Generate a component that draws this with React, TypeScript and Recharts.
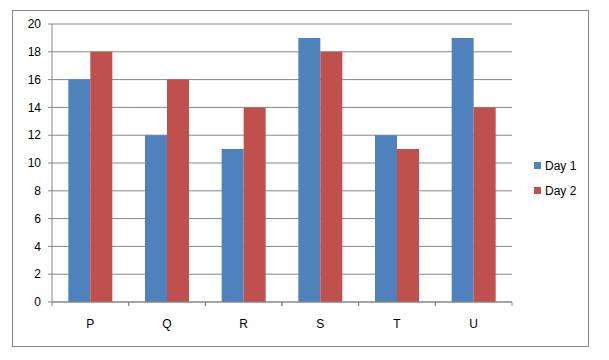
import React from "react";
import { BarChart, Bar, XAxis, YAxis, CartesianGrid, Legend } from "recharts";

const categories = ["P", "Q", "R", "S", "T", "U"];
const day1 = [16, 12, 11, 19, 12, 19];
const day2 = [18, 16, 14, 18, 11, 14];
const yTicks = [0, 2, 4, 6, 8, 10, 12, 14, 16, 18, 20];

const data = categories.map((name, i) => ({ name, day1: day1[i], day2: day2[i] }));

const AXIS = "#868686";
const FONT = "'Liberation Sans', Arial, sans-serif";
const TICK = 4;
const X_MARGIN = 13;

// category ticks in Excel style: tick marks sit on the band edges, label in the middle
function CategoryTick(props: any) {
  const { x, y, payload, width, visibleTicksCount } = props;
  const half = width / visibleTicksCount / 2;
  const top = y - X_MARGIN - TICK;
  return (
    <g>
      <line x1={x - half} x2={x - half} y1={top} y2={top + TICK} stroke={AXIS} />
      <line x1={x + half} x2={x + half} y1={top} y2={top + TICK} stroke={AXIS} />
      <text x={x} y={y} dy="0.71em" textAnchor="middle" fontSize={12} fontFamily={FONT} fill="#000">
        {payload.value}
      </text>
    </g>
  );
}

function LegendBox(props: any) {
  const { payload } = props;
  return (
    <div style={{ fontFamily: FONT, fontSize: 12, whiteSpace: "nowrap", width: 70 }}>
      {payload.map((p: any) => (
        <div key={p.value} style={{ display: "flex", alignItems: "center", height: 25 }}>
          <span
            style={{
              width: 7,
              height: 7,
              flexShrink: 0,
              background: p.color,
              marginRight: 4,
              display: "inline-block",
            }}
          />
          <span>{p.value}</span>
        </div>
      ))}
    </div>
  );
}

export default function App() {
  return (
    <div style={{ position: "absolute", left: 0, top: 0, width: 609, height: 360, background: "#fff" }}>
      <div
        style={{
          position: "absolute",
          left: 12,
          top: 10,
          width: 577,
          height: 337,
          border: `1px solid ${AXIS}`,
          boxSizing: "border-box",
        }}
      />
      <BarChart
        width={609}
        height={360}
        data={data}
        margin={{ top: 24, right: 97, left: 0, bottom: 0 }}
        barCategoryGap="21.3%"
        barGap={0}
        style={{ position: "absolute", left: 0, top: 0 }}
      >
        <CartesianGrid vertical={false} stroke={AXIS} />
        <XAxis
          dataKey="name"
          height={58}
          stroke={AXIS}
          tickLine={false}
          tickSize={TICK}
          tickMargin={X_MARGIN}
          tick={<CategoryTick />}
          interval={0}
        />
        <YAxis
          width={52}
          domain={[0, 20]}
          ticks={yTicks}
          stroke={AXIS}
          tickSize={TICK}
          tickMargin={7}
          interval={0}
          tick={{ fill: "#000", fontSize: 12, fontFamily: FONT }}
        />
        <Legend
          layout="vertical"
          align="right"
          verticalAlign="top"
          content={<LegendBox />}
          wrapperStyle={{ left: 534, top: 153, width: 0, height: 0, overflow: "visible" }}
        />
        <Bar dataKey="day1" name="Day 1" fill="#4F81BD" isAnimationActive={false} />
        <Bar dataKey="day2" name="Day 2" fill="#C0504D" isAnimationActive={false} />
      </BarChart>
    </div>
  );
}
